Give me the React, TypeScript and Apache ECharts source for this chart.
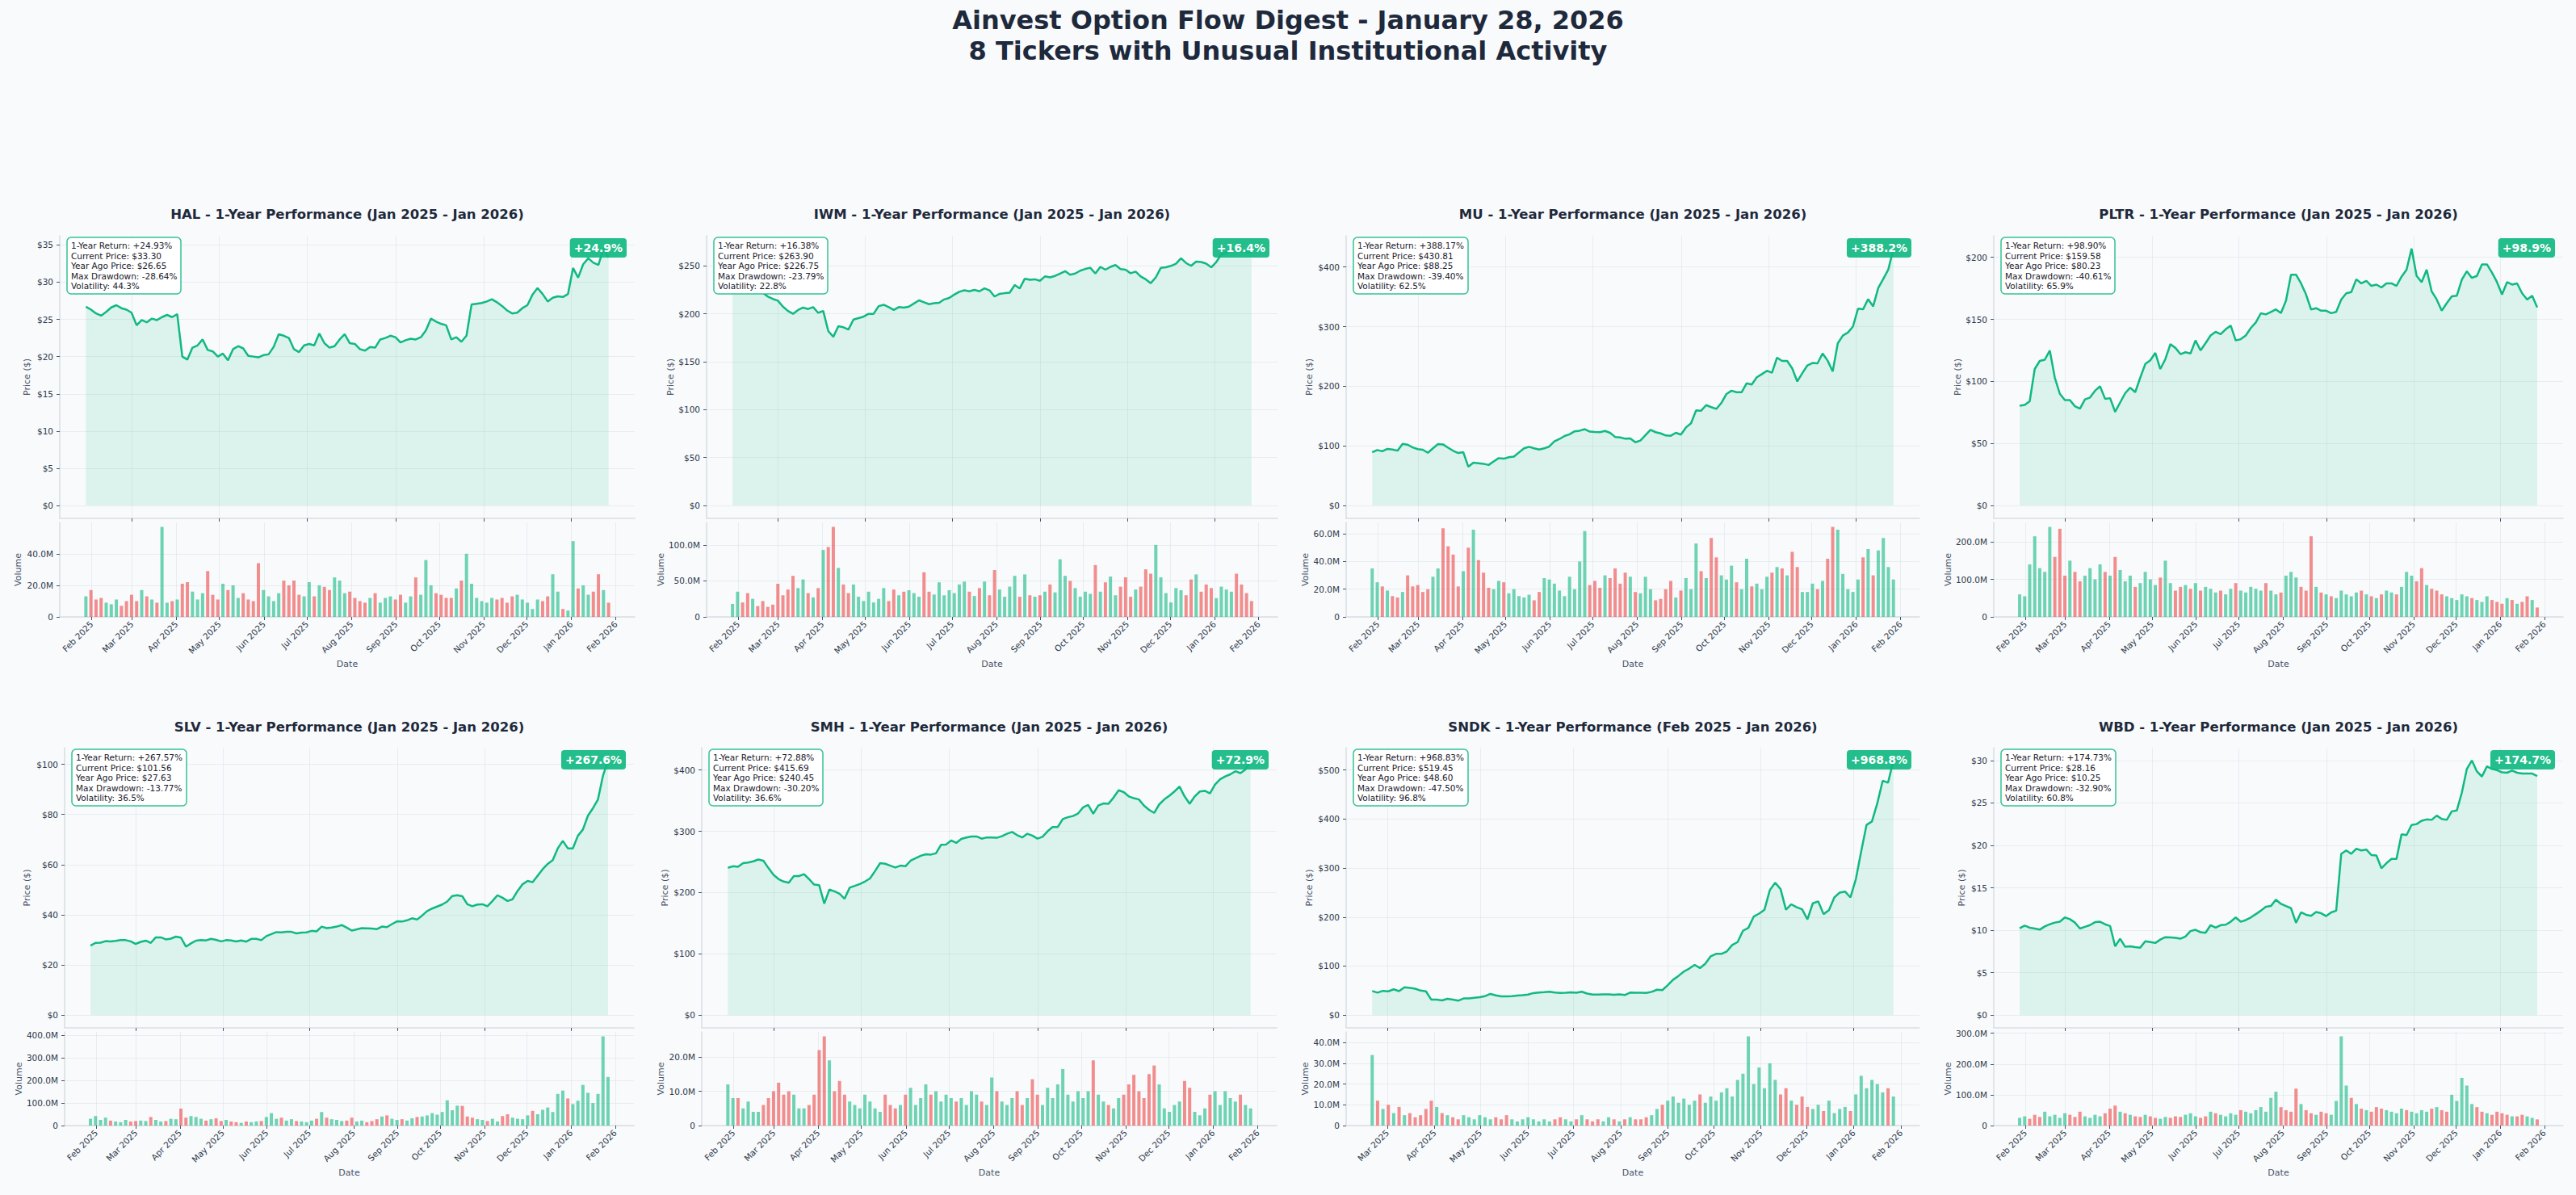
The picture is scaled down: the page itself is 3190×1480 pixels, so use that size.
import React, { useEffect, useRef } from 'react';
import * as echarts from 'echarts';

// ---------------- DATA ----------------
const TICKERS = ['HAL', 'IWM', 'MU', 'PLTR', 'SLV', 'SMH', 'SNDK', 'WBD'];
const PERIODS = ['Jan 2025 - Jan 2026', 'Jan 2025 - Jan 2026', 'Jan 2025 - Jan 2026', 'Jan 2025 - Jan 2026',
  'Jan 2025 - Jan 2026', 'Jan 2025 - Jan 2026', 'Feb 2025 - Jan 2026', 'Jan 2025 - Jan 2026'];
const START_DATES = ['2025-01-28', '2025-01-28', '2025-01-28', '2025-01-28', '2025-01-28', '2025-01-28', '2025-02-19', '2025-01-28'];
const END_DATE = '2026-01-27';

const RETURNS = [24.93, 16.38, 388.17, 98.90, 267.57, 72.88, 968.83, 174.73];
const CURRENT_PRICES = [33.30, 263.90, 430.81, 159.58, 101.56, 415.69, 519.45, 28.16];
const YEAR_AGO_PRICES = [26.65, 226.75, 88.25, 80.23, 27.63, 240.45, 48.60, 10.25];
const MAX_DRAWDOWNS = [-28.64, -23.79, -39.40, -40.61, -13.77, -30.20, -47.50, -32.90];
const VOLATILITIES = [44.3, 22.8, 62.5, 65.9, 36.5, 36.6, 96.8, 60.8];

const HAL_PRICE = [
  26.7, 26.3, 25.8, 25.5, 26.0, 26.6, 26.9, 26.5, 26.3, 25.9,
  24.2, 24.9, 24.6, 25.1, 24.9, 25.3, 25.6, 25.3, 25.7, 20.0,
  19.6, 21.2, 21.5, 22.3, 20.9, 20.7, 20.0, 20.4, 19.5, 21.0,
  21.4, 21.1, 20.1, 20.0, 19.9, 20.2, 20.3, 21.3, 23.0, 22.8,
  22.5, 21.0, 20.6, 21.5, 21.7, 21.5, 23.1, 21.8, 21.2, 21.4,
  22.3, 23.0, 21.8, 21.7, 21.0, 20.8, 21.3, 21.2, 22.3, 22.5,
  22.8, 22.6, 21.9, 22.2, 22.4, 22.3, 22.6, 23.5, 25.1, 24.7,
  24.4, 24.2, 22.3, 22.6, 22.0, 22.8, 27.0, 27.1, 27.2, 27.4,
  27.7, 27.3, 26.8, 26.2, 25.8, 25.9, 26.5, 26.9, 28.3, 29.2,
  28.4, 27.4, 27.9, 28.1, 28.0, 28.4, 31.9, 30.6, 32.4, 33.2,
  32.6, 32.3, 34.5, 33.3];
const HAL_VOLUME = [
  13, 17, 11, 12, 9, 8, 11, 7, 10, 14,
  10, 17, 13, 11, 9, 57, 9, 10, 11, 21,
  22, 16, 11, 15, 29, 14, 11, 21, 17, 20,
  12, 15, 11, 10, 34, 17, 13, 10, 15, 23,
  20, 23, 14, 13, 22, 13, 20, 19, 17, 25,
  23, 15, 16, 12, 10, 9, 12, 15, 9, 12,
  13, 11, 14, 9, 13, 25, 14, 36, 20, 15,
  14, 12, 12, 18, 23, 40, 21, 12, 10, 9,
  12, 11, 12, 9, 13, 14, 11, 9, 5, 11,
  10, 13, 27, 16, 5, 4, 48, 18, 20, 14,
  16, 27, 17, 9];

const IWM_PRICE = [
  226.8, 228, 227, 226, 227.5, 226, 222, 218, 215.5, 213.7,
  207.5, 203, 200, 204, 206.5, 205, 207, 201, 203, 182,
  176, 187, 186, 183.6, 194, 195.5, 197, 200, 200, 208,
  209.4, 207, 204, 207, 206.5, 207.5, 210.8, 214, 212, 210,
  211, 211.5, 215, 216.5, 220, 223, 224.5, 223.5, 225, 223.5,
  226.5, 224.5, 218, 220.8, 221.5, 222, 230, 226.5, 236.6, 235.5,
  236, 234.5, 239, 238, 239.5, 242, 244.5, 240.8, 242, 245,
  246.8, 248, 242, 249, 246, 249, 250.9, 246.6, 246, 242.3,
  244, 239, 236, 232, 238, 248, 248.5, 250, 252.3, 258,
  253, 250, 254.5, 254, 252.3, 248.5, 254, 262, 263.7, 268,
  266.5, 266, 264.5, 263.9];
const IWM_VOLUME = [
  18, 35, 20, 33, 25, 15, 22, 14, 17, 46,
  30, 38, 57, 40, 52, 33, 27, 40, 93, 97,
  125, 68, 45, 33, 45, 28, 22, 35, 20, 25,
  40, 22, 38, 30, 35, 37, 33, 28, 62, 35,
  31, 48, 30, 37, 33, 45, 49, 35, 29, 40,
  49, 30, 65, 38, 28, 42, 57, 28, 59, 30,
  28, 30, 35, 45, 34, 80, 57, 50, 40, 28,
  35, 32, 72, 35, 48, 56, 30, 42, 55, 28,
  38, 42, 66, 60, 100, 55, 33, 20, 40, 37,
  30, 52, 59, 35, 45, 40, 26, 42, 38, 35,
  60, 45, 33, 22];

const MU_PRICE = [
  89.4, 93, 91, 95, 94, 92, 103.5, 102, 97.5, 94.5,
  93.5, 88.5, 96, 103, 102.5, 97, 91.8, 88, 89.4, 65,
  72, 71, 70, 68, 74, 79.5, 78.5, 81, 82, 89,
  96, 98.5, 96, 94, 95.8, 99, 107.5, 111.5, 116.5, 119.5,
  124.5, 125.5, 128, 124, 123.3, 123, 125, 122, 115, 114.2,
  112, 112.5, 106, 109, 118, 127, 123, 121, 117.5, 117,
  122, 119, 130.9, 138, 159.4, 159, 168.4, 165, 162, 172,
  187, 192.5, 190, 190, 205, 203, 215, 220.3, 226, 222.6,
  248, 242.5, 242.5, 230, 208, 222, 235, 239, 238.4, 255,
  243, 225, 272, 285, 290, 300, 330, 329, 346, 334,
  364.8, 380, 396, 430.81];
const MU_VOLUME = [
  35, 25, 22, 19, 15, 14, 18, 30, 22, 23,
  18, 20, 29, 35, 64, 51, 45, 22, 33, 50,
  63, 41, 32, 21, 20, 26, 25, 17, 20, 15,
  14, 16, 12, 18, 28, 27, 24, 19, 15, 29,
  20, 40, 62, 23, 26, 21, 30, 28, 35, 24,
  32, 29, 18, 17, 29, 20, 12, 13, 20, 26,
  14, 19, 28, 20, 53, 33, 28, 57, 43, 30,
  27, 37, 25, 20, 42, 22, 24, 20, 29, 32,
  36, 35, 30, 47, 36, 18, 18, 24, 20, 26,
  42, 65, 63, 31, 20, 18, 27, 43, 49, 30,
  48, 57, 36, 27];

const PLTR_PRICE = [
  80.4, 81, 84, 110, 116.5, 117.5, 124.9, 103, 90, 85,
  85, 80, 78, 85.5, 87, 92.5, 96, 86, 86.5, 75.5,
  83, 90.5, 95, 91.3, 103, 114, 117, 123, 110, 118,
  130, 127, 122, 123.5, 122.5, 133, 125, 130.8, 137, 140,
  138, 142, 145, 133, 134, 137, 143, 147.5, 154.9, 154,
  156, 158, 155, 165, 186, 186, 179, 170, 158, 159,
  157, 157, 155, 156, 166, 171, 172, 182.3, 179, 181,
  177, 178, 175.7, 179, 179, 177, 184.4, 190, 207, 185,
  180, 190, 172.5, 166, 157, 163, 168.5, 169, 182, 188.8,
  183.4, 185, 194.3, 194.3, 187.7, 180, 170, 180, 178, 179,
  171, 166, 169, 159.58];
const PLTR_VOLUME = [
  60, 55, 140, 215, 130, 120, 240, 160, 235, 110,
  150, 120, 95, 110, 130, 100, 140, 120, 110, 160,
  125, 95, 110, 80, 90, 120, 100, 85, 105, 150,
  90, 70, 80, 85, 75, 90, 70, 80, 75, 65,
  70, 60, 75, 90, 70, 65, 80, 75, 70, 90,
  70, 60, 65, 110, 120, 105, 80, 70, 215, 80,
  65, 60, 55, 50, 70, 60, 55, 65, 70, 60,
  55, 50, 60, 70, 65, 60, 80, 120, 110, 95,
  130, 85, 75, 70, 60, 55, 50, 45, 60, 55,
  50, 45, 40, 55, 45, 40, 35, 50, 45, 35,
  40, 55, 45, 25];

const SLV_PRICE = [
  27.7, 28.8, 28.9, 29.5, 29.4, 29.6, 29.9, 29.9, 29.4, 28.4,
  29.2, 29.7, 28.8, 31, 31, 30.2, 30.5, 31.3, 30.9, 27.3,
  28.6, 29.7, 29.9, 29.8, 30.4, 30, 29.4, 29.9, 29.8, 29.4,
  29.8, 29.3, 30.4, 30.4, 29.9, 31.5, 32.3, 33.1, 33, 33.2,
  33.2, 32.6, 32.9, 33, 33.6, 33.4, 35.3, 34.7, 34.9, 35.3,
  35.9, 34.9, 33.7, 34.2, 34.7, 34.6, 34.5, 34.3, 35.3, 35.1,
  36.3, 37.4, 37.3, 37.8, 38.6, 38.1, 39.7, 41.5, 42.5, 43.3,
  44.1, 45.3, 47.5, 47.8, 47.4, 44.2, 43.4, 44.1, 44.2, 43.4,
  45.5, 47.8, 46.8, 45.5, 46.2, 49.5, 52.2, 53.5, 53, 55.6,
  58.2, 60.3, 61.8, 66.5, 69.5, 66.5, 66.5, 71.5, 74, 79.5,
  82.5, 86, 95.5, 101.56];
const SLV_VOLUME = [
  30, 42, 25, 35, 22, 18, 15, 25, 18, 20,
  22, 20, 38, 25, 18, 20, 30, 28, 75, 35,
  42, 38, 30, 22, 28, 32, 20, 25, 18, 15,
  12, 18, 15, 18, 20, 38, 55, 30, 35, 22,
  28, 20, 18, 15, 22, 30, 60, 35, 28, 25,
  20, 22, 35, 18, 22, 15, 20, 28, 40, 45,
  30, 25, 28, 22, 32, 38, 40, 45, 55, 48,
  60, 112, 68, 88, 87, 40, 35, 28, 25, 20,
  30, 18, 42, 50, 35, 30, 28, 45, 65, 50,
  70, 80, 60, 140, 155, 120, 95, 110, 180, 145,
  100, 140, 395, 215];

const SMH_PRICE = [
  240.5, 243, 242, 248, 249, 251, 254, 252, 240, 229,
  222, 218, 216, 227, 227, 230, 222, 213, 212, 182,
  205, 202, 198, 190, 208, 211, 214, 218, 223, 235,
  248, 247, 244, 241, 244, 243, 252, 256, 260, 262.5,
  262, 264, 278, 278.5, 285, 281, 287.5, 289.8, 291.5, 291.6,
  288, 290, 290, 289.4, 292, 296, 299, 293.8, 290, 296,
  293, 288, 291, 300, 307, 307, 320, 323, 325, 329,
  339, 343, 328.6, 342, 345.5, 345, 355, 367, 364, 357,
  354, 352, 342, 335, 330, 343.9, 352, 358, 365, 373,
  357, 345, 357, 365, 366, 362, 376.5, 385, 389.5, 393,
  398, 395, 401, 415.69];
const SMH_VOLUME = [
  12, 8, 8, 5, 7, 4, 4, 6, 8, 10,
  12.5, 9, 10, 9, 5, 5, 6, 9, 22, 26,
  19, 10, 13, 9, 7, 6, 5, 9, 7, 5,
  4, 9, 6, 5, 6, 9, 11, 6, 8, 12,
  9, 10, 7, 9, 8, 7, 8, 6, 10, 9,
  7, 6, 14, 10, 7, 6, 8, 10, 6, 8,
  13.5, 9, 6, 11, 8, 12, 16.5, 9, 7, 10,
  8, 10, 19, 9, 7, 6, 5, 8, 9, 12,
  14.8, 10, 8, 15, 17.5, 12, 5, 4, 6, 7,
  13, 11, 4, 3, 5, 9, 10, 6, 10, 8,
  7, 9, 6, 5];

const SNDK_PRICE = [
  49.1, 45.8, 49.5, 48.5, 52.6, 49, 56.8, 55.5, 53.8, 50,
  48.5, 31.5, 31.6, 30, 33.3, 31.5, 29.5, 34, 34, 35.4,
  36.5, 38.8, 43.3, 40.4, 38.4, 38.2, 38.7, 39.8, 40.8, 42,
  45, 46.1, 46.7, 47.8, 46, 45.3, 45.5, 46.3, 45.5, 47.7,
  44, 41.9, 41.8, 42.2, 42.3, 41.4, 42.5, 41, 46, 45.8,
  45.6, 45.4, 47.5, 51.8, 51, 61, 72.2, 80, 88.9, 95,
  102.5, 96, 105, 120, 125, 125, 130, 143, 149, 172,
  178, 201, 207, 215, 255, 270, 257, 215, 226, 220,
  216, 195.2, 228, 232, 206, 214, 240, 250, 252, 240,
  277, 334, 388, 395, 432, 478, 474, 519.45];
const SNDK_VOLUME = [
  34, 12, 8, 10, 6, 9, 5, 6, 4, 5,
  8, 12, 9, 6, 5, 4, 3, 5, 4, 3,
  5, 4, 3, 4, 3, 5, 3, 2, 3, 4,
  3, 2, 3, 2, 3, 4, 3, 2, 3, 5,
  3, 2, 3, 2, 4, 3, 2, 3, 4, 3,
  3, 4, 5, 8, 10, 12, 14, 11, 13, 10,
  12, 15, 11, 14, 12, 16, 18, 14, 22, 25,
  43, 20, 28, 18, 30, 22, 15, 18, 12, 10,
  14, 9, 8, 10, 7, 12, 6, 8, 9, 7,
  15, 24, 18, 22, 20, 16, 18, 14];

const WBD_PRICE = [
  10.23, 10.55, 10.3, 10.2, 10.07, 10.45, 10.7, 10.9, 11.0, 11.5,
  11.3, 10.9, 10.2, 10.4, 10.6, 10.95, 11.0, 10.7, 10.5, 8.1,
  9.0, 8.05, 8.1, 8.0, 7.95, 8.7, 8.6, 8.5, 8.9, 9.18,
  9.15, 9.1, 9.0, 9.25, 9.9, 10.05, 9.76, 9.7, 10.6, 10.3,
  10.6, 10.65, 11.0, 11.5, 11.0, 11.2, 11.5, 11.9, 12.3, 12.77,
  12.85, 13.6, 13.1, 12.84, 12.6, 10.87, 12.1, 11.82, 11.7, 12.14,
  12.0, 11.66, 12.1, 12.3, 19.0, 19.4, 19.0, 19.6, 19.4, 19.5,
  18.85, 18.8, 17.3, 17.9, 18.4, 18.4, 21.3, 21.2, 22.4, 22.5,
  22.9, 23.05, 23.0, 23.5, 23.1, 23.0, 24.0, 24.1, 26.2, 29.0,
  30.0, 28.7, 28.1, 29.3, 29.0, 28.85, 28.6, 28.55, 28.8, 28.55,
  28.45, 28.45, 28.45, 28.16];
const WBD_VOLUME = [
  25, 30, 22, 35, 28, 45, 30, 35, 25, 40,
  35, 28, 45, 30, 25, 35, 30, 40, 55, 65,
  45, 40, 35, 30, 28, 35, 30, 25, 22, 28,
  25, 30, 28, 35, 40, 30, 25, 30, 45, 40,
  35, 30, 40, 35, 50, 45, 40, 50, 60, 45,
  90, 110, 60, 50, 45, 120, 70, 50, 40, 35,
  45, 40, 35, 80, 290, 130, 90, 70, 55, 50,
  45, 60, 55, 50, 45, 40, 55, 50, 45, 40,
  50, 45, 55, 60, 50, 45, 100, 80, 155, 130,
  70, 60, 45, 40, 35, 45, 40, 35, 30, 30,
  35, 30, 25, 20];

const PRICES = [HAL_PRICE, IWM_PRICE, MU_PRICE, PLTR_PRICE, SLV_PRICE, SMH_PRICE, SNDK_PRICE, WBD_PRICE];
const VOLUMES = [HAL_VOLUME, IWM_VOLUME, MU_VOLUME, PLTR_VOLUME, SLV_VOLUME, SMH_VOLUME, SNDK_VOLUME, WBD_VOLUME];

const PRICE_TICKS = [
  [0, 5, 10, 15, 20, 25, 30, 35],
  [0, 50, 100, 150, 200, 250],
  [0, 100, 200, 300, 400],
  [0, 50, 100, 150, 200],
  [0, 20, 40, 60, 80, 100],
  [0, 100, 200, 300, 400],
  [0, 100, 200, 300, 400, 500],
  [0, 5, 10, 15, 20, 25, 30]];
const VOLUME_TICKS = [
  [0, 20, 40],
  [0, 50, 100],
  [0, 20, 40, 60],
  [0, 100, 200],
  [0, 100, 200, 300, 400],
  [0, 10, 20],
  [0, 10, 20, 30, 40],
  [0, 100, 200, 300]];
const MONTH_TICKS = ['2025-02-01', '2025-03-01', '2025-04-01', '2025-05-01', '2025-06-01', '2025-07-01',
  '2025-08-01', '2025-09-01', '2025-10-01', '2025-11-01', '2025-12-01', '2026-01-01', '2026-02-01'];
const PRICE_X_TICKS = ['2025-03-01', '2025-05-01', '2025-07-01', '2025-09-01', '2025-11-01', '2026-01-01'];
const MONTH_NAMES = ['Jan', 'Feb', 'Mar', 'Apr', 'May', 'Jun', 'Jul', 'Aug', 'Sep', 'Oct', 'Nov', 'Dec'];

// ---------------- LAYOUT ----------------
const W = 3190;
const H = 1480;
const BG = '#f8fafc';
const FONT = "'DejaVu Sans', 'Noto Sans', sans-serif";
const GREEN = '#10b981';
const TITLE_COLOR = '#1e293b';
const PANEL_X = [[74, 786], [875, 1582], [1667, 2377], [2469, 3174], [80, 785], [869, 1581], [1667, 2377], [2469, 3174]];
const ROWS = [
  { title: 265, priceTop: 292, priceBottom: 642, volTop: 647, volBottom: 764 },
  { title: 900, priceTop: 926, priceBottom: 1273, volTop: 1278, volBottom: 1394 }];
const PRICE_NAME_GAP = [35, 38, 40, 39, 41, 40, 40, 34];
const VOL_NAME_GAP = [46, 50, 45, 50, 50, 45, 45, 50];

function makeDates(start: string, end: string, n: number) {
  const t0 = Date.parse(start);
  const t1 = Date.parse(end);
  return Array.from({ length: n }, (_, i) => t0 + ((t1 - t0) * i) / (n - 1));
}

function fmtMonth(v: number) {
  const d = new Date(v);
  return `${MONTH_NAMES[d.getUTCMonth()]} ${d.getUTCFullYear()}`;
}

function buildOption() {
  const grid: any[] = [];
  const xAxis: any[] = [];
  const yAxis: any[] = [];
  const series: any[] = [];
  const title: any[] = [];

  title.push({
    text: 'Ainvest Option Flow Digest - January 28, 2026\n8 Tickers with Unusual Institutional Activity',
    left: 'center',
    top: 6,
    padding: 0,
    textStyle: { fontFamily: FONT, fontSize: 32, fontWeight: 'bold', color: TITLE_COLOR, lineHeight: 38 },
  });

  const monthTicks = MONTH_TICKS.map((s) => Date.parse(s));
  const priceXTicks = PRICE_X_TICKS.map((s) => Date.parse(s));
  const gridLine = { show: true, lineStyle: { color: 'rgba(203,213,225,0.35)', width: 1 } };
  const spine = { show: true, onZero: false, lineStyle: { color: '#d9dee5', width: 1.5 } };
  const tickStyle = { color: '#4a5568', width: 1 };

  TICKERS.forEach((tk, k) => {
    const [L, R] = PANEL_X[k];
    const row = ROWS[k < 4 ? 0 : 1];
    const prices = PRICES[k];
    const vols = VOLUMES[k];
    const dates = makeDates(START_DATES[k], END_DATE, prices.length);
    const t0 = dates[0];
    const t1 = dates[dates.length - 1];
    const pad = (t1 - t0) * 0.05;
    const xMin = t0 - pad;
    const xMax = t1 + pad;
    const inRange = (v: number) => v >= xMin && v <= xMax;
    const mTicks = monthTicks.filter(inRange);
    const pTicks = priceXTicks.filter(inRange);
    const pMax = Math.max(...prices) * 1.05;
    const vMax = Math.max(...vols) * 1.05;

    grid.push({ left: L, top: row.priceTop, width: R - L, height: row.priceBottom - row.priceTop, outerBoundsMode: 'none' });
    grid.push({ left: L, top: row.volTop, width: R - L, height: row.volBottom - row.volTop, outerBoundsMode: 'none' });

    xAxis.push({
      type: 'value', gridIndex: 2 * k, min: xMin, max: xMax,
      axisLine: spine,
      axisTick: { show: true, length: 4, customValues: pTicks, lineStyle: tickStyle },
      axisLabel: { show: false },
      splitLine: gridLine,
    });
    xAxis.push({
      type: 'value', gridIndex: 2 * k + 1, min: xMin, max: xMax,
      name: 'Date', nameLocation: 'middle', nameGap: 53,
      nameTextStyle: { fontFamily: FONT, fontSize: 11, color: '#4a5568' },
      axisLine: spine,
      axisTick: { show: true, length: 4, customValues: mTicks, lineStyle: tickStyle },
      axisLabel: {
        customValues: mTicks, rotate: 45, margin: 7, fontFamily: FONT, fontSize: 10.5, color: '#2d3748',
        formatter: (v: number) => fmtMonth(v),
      },
      splitLine: gridLine,
    });

    yAxis.push({
      type: 'value', gridIndex: 2 * k, min: -0.05 * pMax / 1.05, max: pMax,
      name: 'Price ($)', nameLocation: 'middle', nameGap: PRICE_NAME_GAP[k],
      nameTextStyle: { fontFamily: FONT, fontSize: 11, color: '#4a5568' },
      axisLine: spine,
      axisTick: { show: true, length: 4, customValues: PRICE_TICKS[k], lineStyle: tickStyle },
      axisLabel: {
        customValues: PRICE_TICKS[k], margin: 8, fontFamily: FONT, fontSize: 10.5, color: '#2d3748',
        formatter: (v: number) => `$${v}`,
      },
      splitLine: gridLine,
    });
    yAxis.push({
      type: 'value', gridIndex: 2 * k + 1, min: 0, max: vMax,
      name: 'Volume', nameLocation: 'middle', nameGap: VOL_NAME_GAP[k],
      nameTextStyle: { fontFamily: FONT, fontSize: 11, color: '#4a5568' },
      axisLine: spine,
      axisTick: { show: true, length: 4, customValues: VOLUME_TICKS[k], lineStyle: tickStyle },
      axisLabel: {
        customValues: VOLUME_TICKS[k], margin: 8, fontFamily: FONT, fontSize: 10.5, color: '#2d3748',
        formatter: (v: number) => (v === 0 ? '0' : `${v.toFixed(1)}M`),
      },
      splitLine: gridLine,
    });

    series.push({
      type: 'line', xAxisIndex: 2 * k, yAxisIndex: 2 * k,
      data: dates.map((d, i) => [d, prices[i]]),
      showSymbol: false, symbol: 'none', silent: true,
      lineStyle: { color: GREEN, width: 2.5 },
      itemStyle: { color: GREEN },
      areaStyle: { color: 'rgba(16,185,129,0.17)' },
      z: 3,
    });
    series.push({
      type: 'bar', xAxisIndex: 2 * k + 1, yAxisIndex: 2 * k + 1,
      barWidth: 4, silent: true,
      data: dates.map((d, i) => ({
        value: [d, vols[i]],
        itemStyle: { color: i > 0 && prices[i] < prices[i - 1] ? 'rgba(239,68,68,0.6)' : 'rgba(16,185,129,0.6)' },
      })),
    });

    title.push({
      text: `${tk} - 1-Year Performance (${PERIODS[k]})`,
      left: (L + R) / 2, top: row.title - 10, textAlign: 'center', padding: 0,
      textStyle: { fontFamily: FONT, fontSize: 16.5, fontWeight: 'bold', color: TITLE_COLOR, lineHeight: 20 },
    });
    title.push({
      text: [
        `1-Year Return: +${RETURNS[k].toFixed(2)}%`,
        `Current Price: $${CURRENT_PRICES[k].toFixed(2)}`,
        `Year Ago Price: $${YEAR_AGO_PRICES[k].toFixed(2)}`,
        `Max Drawdown: ${MAX_DRAWDOWNS[k].toFixed(2)}%`,
        `Volatility: ${VOLATILITIES[k].toFixed(1)}%`,
      ].join('\n'),
      left: L + 9, top: row.priceTop + 2, padding: [4, 5, 4, 5],
      backgroundColor: '#ffffff', borderColor: 'rgba(16,185,129,0.85)', borderWidth: 1.5, borderRadius: 5,
      textStyle: { fontFamily: FONT, fontSize: 10.5, fontWeight: 'normal', color: '#1a202c', lineHeight: 12.5 },
      z: 10,
    });
    title.push({
      text: `+${RETURNS[k].toFixed(1)}%`,
      right: W - (R - 10), top: row.priceTop + 3, padding: [4, 5, 4, 5],
      backgroundColor: 'rgba(16,185,129,0.92)', borderRadius: 4,
      textStyle: { fontFamily: FONT, fontSize: 14, fontWeight: 'bold', color: '#ffffff', lineHeight: 16 },
      z: 10,
    });
  });

  return {
    animation: false,
    backgroundColor: BG,
    textStyle: { fontFamily: FONT },
    title,
    grid,
    xAxis,
    yAxis,
    series,
  };
}

export default function App() {
  const ref = useRef<HTMLDivElement>(null);
  useEffect(() => {
    document.body.style.margin = '0';
    document.body.style.background = BG;
    const chart = echarts.init(ref.current as HTMLDivElement, null, { renderer: 'svg', width: W, height: H });
    chart.setOption(buildOption() as any);
    return () => chart.dispose();
  }, []);
  return <div ref={ref} style={{ width: W, height: H }} />;
}
